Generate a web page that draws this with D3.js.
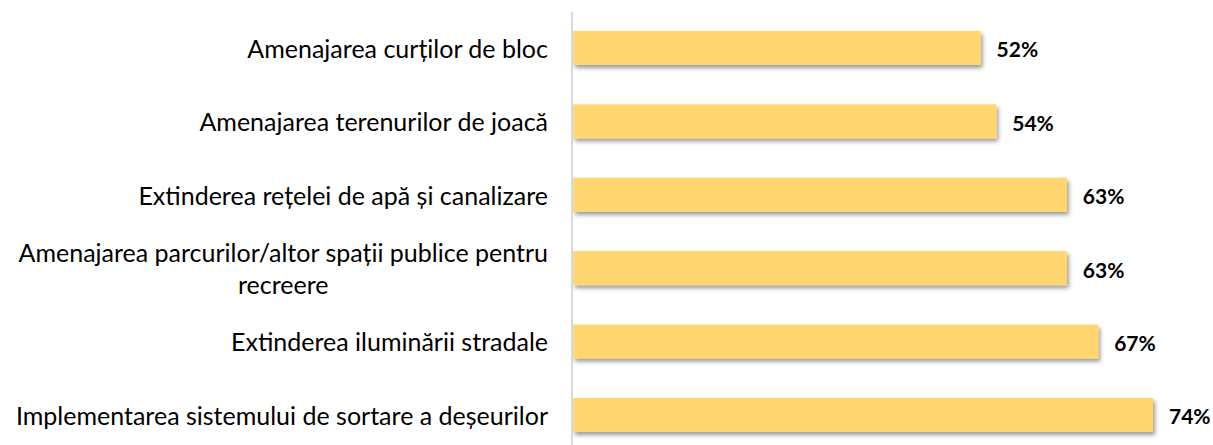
<!DOCTYPE html>
<html>
<head>
<meta charset="utf-8">
<script src="https://cdn.jsdelivr.net/npm/d3@7"></script>
<style>
  body { margin: 0; background: #fff; }
  text { font-family: Lato, "Open Sans", sans-serif; }
</style>
</head>
<body>
<div id="chart"></div>
<script>
// Data
const categories = [
  ['Amenajarea curților de bloc'],
  ['Amenajarea terenurilor de joacă'],
  ['Extinderea rețelei de apă și canalizare'],
  ['Amenajarea parcurilor/altor spații publice pentru', 'recreere'],
  ['Extinderea iluminării stradale'],
  ['Implementarea sistemului de sortare a deșeurilor']
];
const values = [52, 54, 63, 63, 67, 74];

const width = 1213, height = 445;
const axisX = 573;

const svg = d3.select('#chart')
  .append('svg')
  .attr('width', width)
  .attr('height', height);

// Drop shadow under bars
const defs = svg.append('defs');
defs.append('filter')
  .attr('id', 'shadow')
  .attr('x', '-5%').attr('y', '-30%')
  .attr('width', '110%').attr('height', '180%')
  .append('feDropShadow')
  .attr('dx', 2).attr('dy', 3)
  .attr('stdDeviation', 2)
  .attr('flood-color', '#000')
  .attr('flood-opacity', 0.4);

const x = d3.scaleLinear().domain([0, 74]).range([axisX, 1153]);
const y = d3.scaleBand()
  .domain(d3.range(values.length))
  .range([31, 432])
  .paddingInner(0.537)
  .paddingOuter(0);

// Bars
svg.selectAll('.bar')
  .data(values)
  .enter()
  .append('rect')
  .attr('class', 'bar')
  .attr('x', x(0))
  .attr('y', (d, i) => y(i))
  .attr('width', d => x(d) - x(0))
  .attr('height', y.bandwidth())
  .attr('fill', '#FFD66F')
  .attr('filter', 'url(#shadow)');

// Vertical axis line
svg.append('line')
  .attr('x1', axisX - 1).attr('x2', axisX - 1)
  .attr('y1', 12).attr('y2', height)
  .attr('stroke', '#d9d9d9')
  .attr('stroke-width', 2);

// Value labels
svg.selectAll('.value')
  .data(values)
  .enter()
  .append('text')
  .attr('class', 'value')
  .attr('x', d => x(d) + 16)
  .attr('y', (d, i) => y(i) + y.bandwidth() / 2 + 2)
  .attr('dy', '0.35em')
  .attr('font-size', 21)
  .attr('font-weight', 'bold')
  .attr('fill', '#000')
  .text(d => d + '%');

// Category labels (right-aligned block, lines centred)
const labelRight = 548;
const fontSize = 25;
const lineH = 32;
categories.forEach((lines, i) => {
  const cy = y(i) + y.bandwidth() / 2 + 1;
  const t = svg.append('text')
    .attr('font-size', fontSize)
    .attr('fill', '#000');
  lines.forEach((line, j) => {
    t.append('tspan')
      .attr('y', cy + (j - (lines.length - 1) / 2) * lineH)
      .attr('dy', '0.35em')
      .text(line);
  });
  // measure and position
  const widths = t.selectAll('tspan').nodes().map(n => n.getComputedTextLength());
  const center = labelRight - d3.max(widths) / 2;
  t.selectAll('tspan')
    .attr('x', center)
    .attr('text-anchor', 'middle');
});
</script>
</body>
</html>
